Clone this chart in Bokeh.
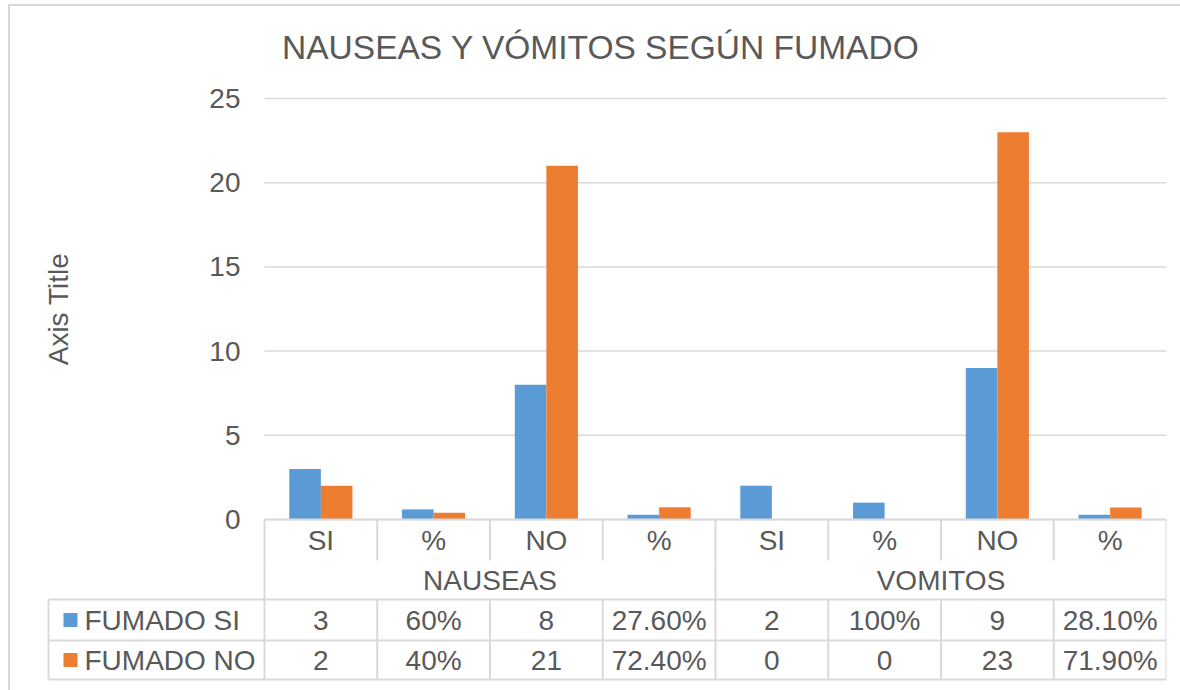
from bokeh.plotting import figure
from bokeh.layouts import column
from bokeh.models import Range1d, FixedTicker, ColumnDataSource
from bokeh.core.properties import value
from bokeh.embed import file_html
from bokeh.resources import INLINE

# ---- data ----
title = "NAUSEAS Y VÓMITOS SEGÚN FUMADO"
categories = ["SI", "%", "NO", "%", "SI", "%", "NO", "%"]
groups = ["NAUSEAS", "VOMITOS"]
series_names = ["FUMADO SI", "FUMADO NO"]
fumado_si = [3, 0.6, 8, 0.276, 2, 1.0, 9, 0.281]
fumado_no = [2, 0.4, 21, 0.724, 0, 0, 23, 0.719]
fumado_si_labels = ["3", "60%", "8", "27.60%", "2", "100%", "9", "28.10%"]
fumado_no_labels = ["2", "40%", "21", "72.40%", "0", "0", "23", "71.90%"]
y_ticks = [0, 5, 10, 15, 20, 25]

BLUE = "#5b9bd5"
ORANGE = "#ed7d31"
TXT = "#595959"
GRID = "#d9d9d9"
FONT = "Liberation Sans"
FS = "28px"

n = len(categories)
idx = list(range(n))

# layout (page pixels)
ORG_X, ORG_Y = 10, 6        # top-left of the figure inside the chart border
AXIS_Y = 519                # page y of value 0
TOP_Y = 98                  # page y of value 25
PLOT_L = 264                # page x of the plot area's left edge
COL_PX = 112.75             # pixels per category
Y_MAX = 25
PXU = (AXIS_Y - TOP_Y) / Y_MAX
FIG_W, FIG_H = 1170, 684


def u(px):
    """pixel offset below the value axis -> value units"""
    return -px / PXU


x_start = -(PLOT_L - ORG_X) / COL_PX
left = -(PLOT_L - 48) / COL_PX   # left edge of the label column
y_top = (AXIS_Y - ORG_Y) / PXU
y_bot = u(ORG_Y + FIG_H - AXIS_Y)

p = figure(width=FIG_W, height=FIG_H, x_range=Range1d(x_start, n), y_range=Range1d(y_bot, y_top),
           output_backend="svg", toolbar_location=None,
           min_border_left=0, min_border_right=14, min_border_top=0, min_border_bottom=0)
p.outline_line_color = None
p.xaxis.visible = False
p.xgrid.visible = False
p.ygrid.visible = False

# chart title
p.text(x=[(600.5 - PLOT_L) / COL_PX], y=[(AXIS_Y - 47) / PXU], text=[title],
       text_align="center", text_baseline="alphabetic", text_font=value(FONT),
       text_font_size="33.5px", text_color=TXT)

# value gridlines across the plot area
p.segment(x0=[0] * len(y_ticks), x1=[n] * len(y_ticks), y0=y_ticks, y1=y_ticks,
          line_color=GRID, line_width=1.5)

src = ColumnDataSource(dict(
    x_si=[i + 0.5 - 0.14 for i in idx],
    x_no=[i + 0.5 + 0.14 for i in idx],
    si=fumado_si, no=fumado_no))
p.vbar(x="x_si", top="si", bottom=0, width=0.28, source=src, fill_color=BLUE, line_color=None)
p.vbar(x="x_no", top="no", bottom=0, width=0.28, source=src, fill_color=ORANGE, line_color=None)

ax = p.yaxis[0]
ax.fixed_location = 0
ax.bounds = (0, Y_MAX)
ax.ticker = FixedTicker(ticks=y_ticks)
ax.axis_line_color = None
ax.major_tick_line_color = None
ax.minor_tick_line_color = None
ax.major_label_text_font = FONT
ax.major_label_text_font_size = FS
ax.major_label_text_color = TXT
ax.major_label_standoff = 18
ax.axis_label = "Axis Title"
ax.axis_label_text_font = FONT
ax.axis_label_text_font_size = FS
ax.axis_label_text_font_style = "normal"
ax.axis_label_text_color = TXT
ax.axis_label_standoff = 132

# ---- data table (below the value axis) ----
r_cat, r_grp, r_1, r_2, r_end = 0, 41, 80, 121, 160

p.segment(x0=[0, left, left, left], x1=[n, n, n, n],
          y0=[u(r_cat), u(r_1), u(r_2), u(r_end)], y1=[u(r_cat), u(r_1), u(r_2), u(r_end)],
          line_color=GRID, line_width=2)
bx = list(range(n + 1))
p.segment(x0=bx, x1=bx, y0=[u(r_cat)] * len(bx), y1=[u(r_grp)] * len(bx), line_color=GRID, line_width=2)
p.segment(x0=bx, x1=bx, y0=[u(r_1)] * len(bx), y1=[u(r_end)] * len(bx), line_color=GRID, line_width=2)
gx = [0, n // 2, n]
p.segment(x0=gx, x1=gx, y0=[u(r_grp)] * 3, y1=[u(r_1)] * 3, line_color=GRID, line_width=2)
p.segment(x0=[left], x1=[left], y0=[u(r_1)], y1=[u(r_end)], line_color=GRID, line_width=2)

cx = [i + 0.5 for i in idx]
txt_kw = dict(text_baseline="middle", text_font=value(FONT), text_font_size=FS, text_color=TXT)
p.text(x=cx, y=[u((r_cat + r_grp) / 2)] * n, text=categories, text_align="center", **txt_kw)
p.text(x=[n / 4, 3 * n / 4], y=[u((r_grp + r_1) / 2)] * 2, text=groups, text_align="center", **txt_kw)
p.text(x=cx, y=[u((r_1 + r_2) / 2)] * n, text=fumado_si_labels, text_align="center", **txt_kw)
p.text(x=cx, y=[u((r_2 + r_end) / 2)] * n, text=fumado_no_labels, text_align="center", **txt_kw)

key_x = left + 22 / COL_PX
name_x = left + 36 / COL_PX
row_y = [u((r_1 + r_2) / 2), u((r_2 + r_end) / 2)]
p.scatter(x=[key_x, key_x], y=row_y, marker="square", size=14,
          fill_color=[BLUE, ORANGE], line_color=None)
p.text(x=[name_x, name_x], y=row_y, text=series_names, text_align="left", **txt_kw)

layout = column(p, spacing=0, margin=(4, 0, 0, 8),
                styles={"border-left": "2px solid #d9d9d9", "border-top": "2px solid #d9d9d9"})

open("out.html", "w").write(file_html(layout, INLINE))
